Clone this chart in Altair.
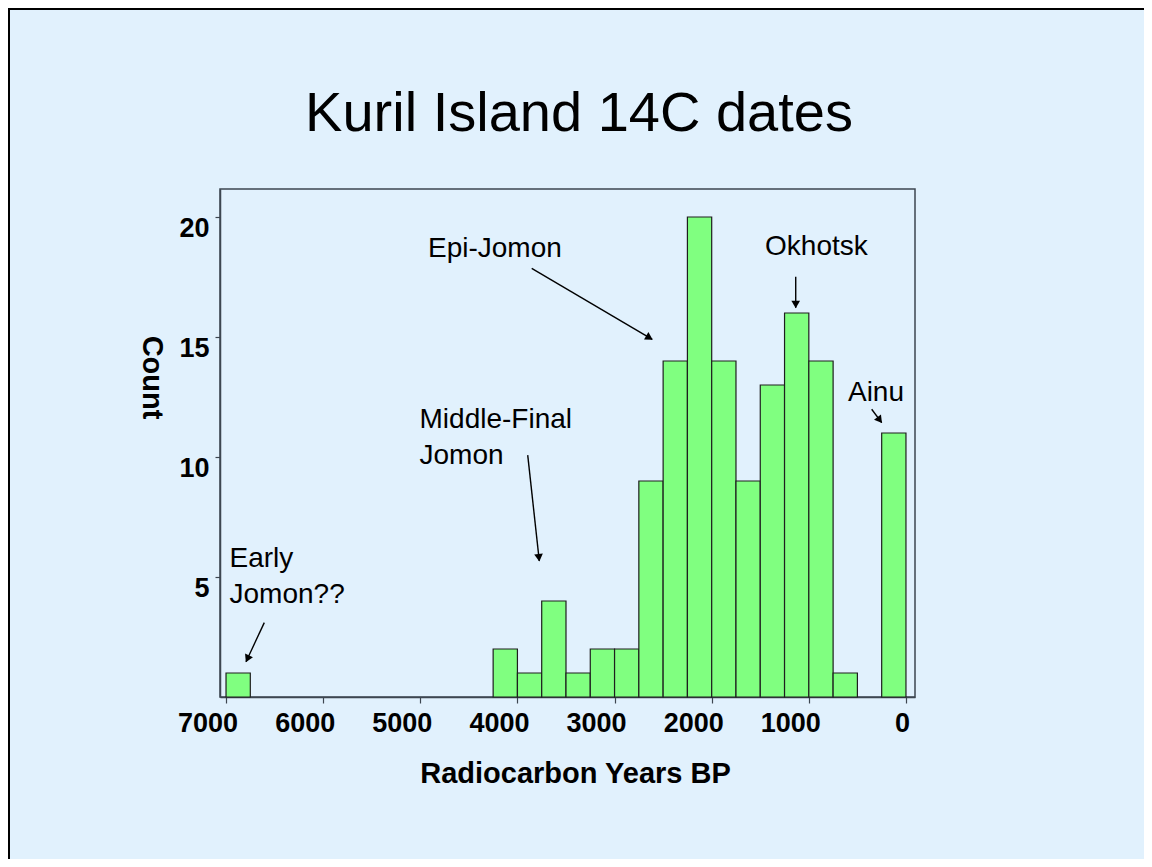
import math
import altair as alt
import pandas as pd

# ---- data ----
bin_start = [7000, 4250, 4000, 3750, 3500, 3250, 3000, 2750, 2500,
             2250, 2000, 1750, 1500, 1250, 1000, 750, 250]
counts = [1, 2, 1, 4, 1, 2, 2, 9, 14, 20, 14, 9, 13, 16, 14, 1, 11]
BIN_WIDTH = 250

x_ticks = [7000, 6000, 5000, 4000, 3000, 2000, 1000, 0]
y_ticks = [5, 10, 15, 20]

ann_text = ["Early\nJomon??", "Middle-Final\nJomon", "Epi-Jomon", "Okhotsk", "Ainu"]
ann_year = [6964, 5008, 4921, 1451, 597]
ann_count = [5.42, 11.19, 18.33, 18.42, 12.35]

arrow_year0 = [6606, 3894, 3853, 1135, 353]
arrow_count0 = [3.10, 10.08, 17.86, 17.51, 11.99]
arrow_year1 = [6794, 3775, 2612, 1135, 250]
arrow_count1 = [1.47, 5.67, 14.90, 16.22, 11.43]

title_text = "Kuril Island 14C dates"
x_title = "Radiocarbon Years BP"
y_title = "Count"

# ---- layout ----
W, H = 695, 508
X_DOMAIN = [-93, 7062]
Y_DOMAIN = [0, 21.1667]
kx = W / (X_DOMAIN[1] - X_DOMAIN[0])
ky = H / (Y_DOMAIN[1] - Y_DOMAIN[0])

FONT = "Liberation Sans"
AX = "#3d4650"
BG = "#e1f1fd"

bars = pd.DataFrame({
    "start": bin_start,
    "end": [s - BIN_WIDTH for s in bin_start],
    "count": counts,
    "base": [0] * len(counts),
})

ann = pd.DataFrame({"start": ann_year, "count": ann_count, "text": ann_text})

arrows = pd.DataFrame({"start": arrow_year0, "count": arrow_count0,
                       "end": arrow_year1, "count2": arrow_count1})

# arrowhead direction (screen space) from the arrow data
heads = []
for a0, b0, a1, b1 in zip(arrow_year0, arrow_count0, arrow_year1, arrow_count1):
    dpx = -(a1 - a0) * kx
    dpy = -(b1 - b0) * ky
    ln = math.hypot(dpx, dpy)
    ux, uy = dpx / ln, dpy / ln
    ang = math.degrees(math.atan2(dpx, -dpy)) % 360
    back = 4.5
    heads.append({"start": a1 + back * ux / kx, "count": b1 + back * uy / ky, "angle": ang})
heads = pd.DataFrame(heads)

xscale = alt.Scale(domain=X_DOMAIN, reverse=True, nice=False, zero=False)
yscale = alt.Scale(domain=Y_DOMAIN, nice=False, zero=False)

x_axis = alt.Axis(
    values=x_ticks, format="d", title=x_title, grid=False,
    tickSize=6, tickColor=AX, domainColor=AX, domainWidth=1.5, tickWidth=1.2,
    labelFont=FONT, labelFontSize=27, labelFontWeight="bold", labelColor="black",
    labelBaseline="alphabetic", labelPadding=28, labelFlush=False, labelOverlap=False,
    labelOffset={"condition": {"test": "datum.value == 0", "value": -4}, "value": -18.5},
    titleFont=FONT, titleFontSize=29, titleFontWeight="bold", titleColor="black",
    titleX=355, titleY=85, titleBaseline="alphabetic", titleAlign="center",
)

y_axis = alt.Axis(
    values=y_ticks, title=y_title, grid=False,
    tickSize=5, tickColor=AX, domainColor=AX, domainWidth=1.5, tickWidth=1.2,
    labelFont=FONT, labelFontSize=27, labelFontWeight="bold", labelColor="black",
    labelBaseline="alphabetic", labelOffset=19, labelPadding=6, labelAlign="right",
    labelFlush=False, labelOverlap=False,
    titleFont=FONT, titleFontSize=29, titleFontWeight="bold", titleColor="black",
    titleAngle=90, titleX=-69, titleY=188, titleAlign="center", titleBaseline="middle",
)

X = alt.X("start:Q", scale=xscale, axis=x_axis)
Y = alt.Y("count:Q", scale=yscale, axis=y_axis)

bar_layer = alt.Chart(bars).mark_bar(
    fill="#80ff80", stroke="#1e1e1e", strokeWidth=1.2
).encode(x=X, x2="end:Q", y=Y, y2="base:Q")

arrow_layer = alt.Chart(arrows).mark_rule(color="black", strokeWidth=1.4).encode(
    x=X, x2="end:Q", y=Y, y2="count2:Q"
)

head_layer = alt.Chart(heads).mark_point(
    shape="triangle", filled=True, size=75, color="black", opacity=1
).encode(x=X, y=Y, angle=alt.Angle("angle:Q", scale=None))

text_layer = alt.Chart(ann).mark_text(
    align="left", baseline="alphabetic", font=FONT, fontSize=28,
    lineBreak="\n", lineHeight=36, color="black"
).encode(x=X, y=Y, text="text:N")

one = pd.DataFrame({"k": [0]})
title_layer = alt.Chart(one).mark_text(
    text=title_text, font=FONT, fontSize=56, align="center",
    baseline="alphabetic", color="black"
).encode(x=alt.value(359), y=alt.value(-58))

border_v = alt.Chart(one).mark_rule(color="black", strokeWidth=2).encode(
    x=alt.value(-211), y=alt.value(-181), y2=alt.value(670)
)
border_h = alt.Chart(one).mark_rule(color="black", strokeWidth=2).encode(
    x=alt.value(-212), x2=alt.value(924), y=alt.value(-180)
)

chart = alt.layer(
    bar_layer, arrow_layer, head_layer, text_layer, title_layer, border_v, border_h
).properties(
    width=W, height=H,
    autosize=alt.AutoSizeParams(type="none"),
    padding={"left": 212, "top": 181, "right": 229, "bottom": 162},
).configure(
    background=BG,
).configure_view(
    stroke=AX, strokeWidth=1.5, fill=BG
)

chart.save("out.html", embed_options={"renderer": "svg", "actions": False})
